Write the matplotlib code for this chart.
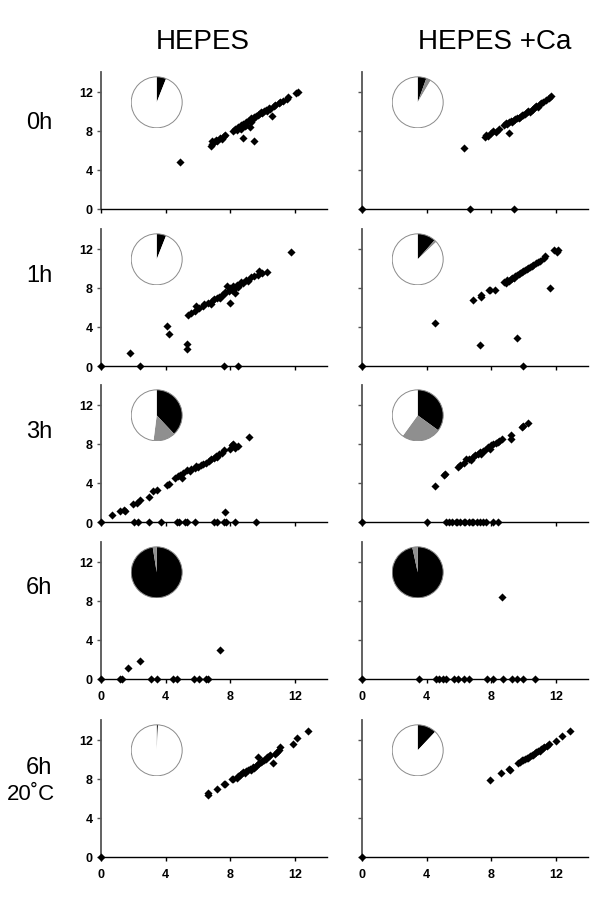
"""Scatter panels with inset pies: HEPES vs HEPES +Ca over time."""

import matplotlib
import matplotlib.pyplot as plt
from matplotlib.patches import Circle

matplotlib.use("Agg")

plt.rcParams["font.family"] = ["Liberation Sans", "DejaVu Sans"]

col_titles = ["HEPES", "HEPES +Ca"]
row_labels = ["0h", "1h", "3h", "6h", "6h"]
axis_ticks = [0, 4, 8, 12]

# --- scatter data, one (x, y) pair of lists per panel ---
r1_hepes_x = [4.9, 6.8, 6.9, 6.9, 7.0, 7.1, 7.2, 7.4, 7.5, 7.6, 7.7,
              8.2, 8.3, 8.4, 8.5, 8.6, 8.7, 8.7, 8.8, 8.9, 9.0, 9.0, 9.1, 9.2, 9.3, 9.3,
              9.4, 9.5, 9.6, 9.7, 9.8, 9.9, 10.0, 10.1, 10.2, 10.3, 10.4, 10.5, 10.7,
              10.8, 11.0, 11.1, 11.3, 11.5, 11.6, 12.1, 12.2, 8.8, 9.45, 10.6, 9.25]
r1_hepes_y = [4.8, 6.4, 6.6, 6.9, 6.8, 7.1, 7.0, 7.3, 7.2, 7.5, 7.6,
              8.0, 8.2, 8.1, 8.4, 8.3, 8.6, 8.2, 8.7, 8.5, 8.9, 8.6, 9.0, 9.1, 8.9, 9.3,
              9.2, 9.4, 9.5, 9.6, 9.7, 9.9, 9.8, 10.0, 10.1, 10.0, 10.3, 10.2, 10.5,
              10.6, 10.8, 10.9, 11.0, 11.2, 11.4, 11.9, 12.0, 7.3, 7.0, 9.5, 8.4]

r1_ca_x = [0.0, 6.7, 9.4, 6.3, 7.6, 7.7, 7.8, 8.0, 8.1, 8.3, 8.5, 9.1,
           8.8, 8.9, 9.0, 9.1, 9.2, 9.3, 9.4, 9.5, 9.6, 9.7, 9.8, 9.9, 10.0, 10.1,
           10.2, 10.3, 10.4, 10.5, 10.6, 10.7, 10.8, 10.9, 11.0, 11.1, 11.2, 11.4,
           11.6, 11.7]
r1_ca_y = [0.0, 0.0, 0.0, 6.2, 7.4, 7.6, 7.5, 7.8, 8.0, 7.9, 8.2, 7.8,
           8.6, 8.8, 8.7, 8.9, 9.0, 8.9, 9.1, 9.2, 9.3, 9.3, 9.4, 9.6, 9.6, 9.7,
           9.9, 10.0, 9.9, 10.1, 10.2, 10.4, 10.5, 10.4, 10.7, 10.8, 10.9, 11.1,
           11.3, 11.5]

r2_hepes_x = [0.0, 2.4, 7.6, 8.5, 1.8, 4.1, 4.2, 5.3, 5.3, 8.0, 8.3, 11.8,
              5.4, 5.6, 5.8, 5.9, 6.1, 6.3, 6.4, 6.6, 6.8, 6.9, 7.0, 7.2, 7.3, 7.4,
              7.5, 7.6, 7.7, 7.8, 7.9, 8.0, 8.1, 8.2, 8.3, 8.4, 8.5, 8.6, 8.7, 8.8,
              9.0, 9.1, 9.3, 9.5, 9.7, 9.8, 10.0, 10.3]
r2_hepes_y = [0.0, 0.0, 0.0, 0.0, 1.3, 4.05, 3.3, 2.2, 1.75, 6.4, 7.45, 11.7,
              5.2, 5.4, 5.6, 6.1, 5.9, 6.1, 6.3, 6.4, 6.3, 6.6, 6.8, 6.9, 7.1, 7.0,
              7.3, 7.4, 7.6, 8.2, 7.7, 8.0, 7.8, 8.2, 8.0, 8.3, 8.1, 8.4, 8.6, 8.5,
              8.8, 8.7, 9.1, 9.2, 9.3, 9.7, 9.5, 9.6]

r2_ca_x = [0.0, 9.95, 4.5, 7.3, 9.6, 11.65, 6.9, 7.4, 7.4, 7.85, 8.25, 7.9,
           8.8, 8.9, 9.0, 9.1, 9.2, 9.3, 9.4, 9.5, 9.6, 9.7, 9.8, 9.9, 10.0, 10.1,
           10.2, 10.3, 10.4, 10.5, 10.6, 10.8, 10.9, 11.0, 11.3, 11.35, 11.9,
           12.15, 12.1]
r2_ca_y = [0.0, 0.0, 4.35, 2.1, 2.9, 8.0, 6.7, 7.3, 7.1, 7.75, 7.75, 7.8,
           8.6, 8.5, 8.8, 8.7, 8.9, 9.0, 9.0, 9.2, 9.3, 9.4, 9.5, 9.6, 9.7, 9.8,
           9.9, 10.0, 10.1, 10.2, 10.3, 10.5, 10.6, 10.7, 11.0, 11.2, 11.85,
           11.9, 11.7]

r3_hepes_x = [0.0, 2.05, 2.3, 2.95, 3.7, 4.7, 4.85, 5.2, 5.3, 5.8, 7.0, 7.2,
              7.65, 7.75, 8.3, 9.6, 7.7,
              0.7, 1.2, 1.4, 1.5, 2.0, 2.2, 2.4, 2.95, 3.2, 3.45, 4.1, 4.2, 4.6, 4.8,
              4.9, 5.0, 5.1, 5.3, 5.5, 5.6, 5.8, 5.9, 6.0, 6.2, 6.3, 6.5, 6.7, 6.8,
              7.0, 7.1, 7.2, 7.3, 7.5, 7.6, 8.0, 8.1, 8.2, 8.3, 8.5, 9.15]
r3_hepes_y = [0.0, 0.0, 0.0, 0.0, 0.0, 0.0, 0.0, 0.0, 0.0, 0.0, 0.0, 0.0,
              0.0, 0.0, 0.0, 0.0, 1.05,
              0.7, 1.1, 1.2, 1.1, 1.8, 1.9, 2.2, 2.6, 3.2, 3.3, 3.8, 3.9, 4.5, 4.7,
              4.8, 4.5, 5.0, 5.3, 5.2, 5.4, 5.5, 5.7, 5.6, 5.8, 5.9, 6.0, 6.2, 6.4,
              6.5, 6.7, 6.6, 6.9, 7.1, 7.4, 7.5, 7.9, 8.0, 7.6, 7.8, 8.65]

r3_ca_x = [0.0, 4.0, 5.2, 5.4, 5.6, 5.8, 5.9, 6.1, 6.3, 6.4, 6.6, 6.8, 6.9, 7.1,
           7.3, 7.5, 7.7, 8.1, 8.4,
           4.55, 5.1, 5.15, 5.95, 6.1, 6.3, 6.45, 6.6, 6.75, 6.9, 7.0, 7.2, 7.3,
           7.4, 7.5, 7.6, 7.8, 7.9, 8.0, 8.1, 8.3, 8.4, 8.5, 8.7, 9.2, 9.2, 9.9,
           10.0, 10.3]
r3_ca_y = [0.0, 0.0, 0.0, 0.0, 0.0, 0.0, 0.0, 0.0, 0.0, 0.0, 0.0, 0.0, 0.0, 0.0,
           0.0, 0.0, 0.0, 0.0, 0.0,
           3.7, 4.8, 4.9, 5.6, 5.8, 6.0, 6.45, 6.4, 6.3, 6.6, 6.8, 7.0, 7.15,
           6.9, 7.3, 7.4, 7.65, 7.5, 7.9, 8.0, 8.1, 8.2, 8.3, 8.5, 8.85, 8.5, 9.7,
           9.8, 10.1]

r4_hepes_x = [0.0, 1.15, 1.3, 3.1, 3.45, 4.45, 4.7, 5.75, 6.1, 6.5, 6.6, 1.7, 2.4, 7.35]
r4_hepes_y = [0.0, 0.0, 0.0, 0.0, 0.0, 0.0, 0.0, 0.0, 0.0, 0.0, 0.0, 1.1, 1.8, 2.95]

r4_ca_x = [0.0, 3.55, 4.6, 4.8, 5.0, 5.2, 5.7, 5.95, 6.3, 6.6, 7.75, 8.1, 8.75,
           9.3, 9.6, 10.0, 10.7, 8.7]
r4_ca_y = [0.0, 0.0, 0.0, 0.0, 0.0, 0.0, 0.0, 0.0, 0.0, 0.0, 0.0, 0.0, 0.0,
           0.0, 0.0, 0.0, 0.0, 8.4]

r5_hepes_x = [0.0, 6.65, 6.65, 7.2, 7.6, 7.7, 8.1, 8.2, 8.4, 8.5, 8.6, 8.7, 8.8,
              8.9, 9.0, 9.1, 9.2, 9.3, 9.4, 9.5, 9.6, 9.7, 9.7, 9.8, 9.9, 10.0,
              10.1, 10.2, 10.3, 10.4, 10.5, 10.65, 10.8, 10.9, 11.0, 11.1, 11.9,
              12.15, 12.8]
r5_hepes_y = [0.0, 6.5, 6.3, 7.0, 7.45, 7.5, 7.95, 8.0, 8.1, 8.3, 8.4, 8.5, 8.7,
              8.6, 8.8, 8.9, 9.0, 8.9, 9.2, 9.1, 9.3, 9.5, 10.2, 9.6, 9.7, 9.8,
              9.9, 10.0, 10.2, 10.3, 10.4, 9.65, 10.5, 10.7, 10.9, 11.2, 11.5,
              12.2, 12.9]

r5_ca_x = [0.0, 7.95, 8.6, 9.1, 9.15, 9.65, 9.8, 9.9, 10.0, 10.1, 10.2, 10.3,
           10.4, 10.5, 10.6, 10.7, 10.8, 10.9, 11.0, 11.1, 11.2, 11.3, 11.45,
           11.6, 12.0, 12.4, 12.9]
r5_ca_y = [0.0, 7.9, 8.6, 9.0, 8.9, 9.65, 9.7, 9.9, 9.9, 10.0, 10.1, 10.1,
           10.3, 10.4, 10.4, 10.6, 10.7, 10.8, 10.8, 11.0, 11.1, 11.2, 11.3,
           11.5, 11.9, 12.4, 12.9]

# --- pie fractions: black, gray (white is the rest) ---
pie_black = [[0.06, 0.055], [0.06, 0.115], [0.38, 0.35], [0.975, 0.966], [0.008, 0.12]]
pie_gray = [[0.0, 0.03], [0.0, 0.015], [0.14, 0.25], [0.025, 0.034], [0.0, 0.0]]

panels = [
    [(r1_hepes_x, r1_hepes_y), (r1_ca_x, r1_ca_y)],
    [(r2_hepes_x, r2_hepes_y), (r2_ca_x, r2_ca_y)],
    [(r3_hepes_x, r3_hepes_y), (r3_ca_x, r3_ca_y)],
    [(r4_hepes_x, r4_hepes_y), (r4_ca_x, r4_ca_y)],
    [(r5_hepes_x, r5_hepes_y), (r5_ca_x, r5_ca_y)],
]

W, H = 600, 912
fig = plt.figure(figsize=(W / 100, H / 100), dpi=100)

col_left = [101, 362]
ax_w = 226
row_bottom = [210, 367, 523, 680, 858]
ax_h = 137
row_label_y = [123, 276, 432, 588, 768]

for r in range(5):
    for c in range(2):
        rect = [col_left[c] / W, 1 - row_bottom[r] / H, ax_w / W, ax_h / H]
        ax = fig.add_axes(rect)
        x, y = panels[r][c]
        ax.scatter(x, y, marker="D", s=17, color="black", linewidths=0,
                   clip_on=False, zorder=3)
        ax.set_xlim(0, 14)
        ax.set_ylim(0, 14)
        for side in ["top", "right"]:
            ax.spines[side].set_visible(False)
        ax.spines["left"].set_color("#555555")
        ax.spines["left"].set_linewidth(1.3)
        ax.spines["bottom"].set_linewidth(1.0)
        ax.set_xticks(axis_ticks)
        ax.set_yticks(axis_ticks)
        ax.tick_params(axis="x", length=3, width=1, pad=5)
        ax.tick_params(axis="y", length=3, width=1, pad=3, color="#555555")
        if c == 0:
            ax.set_yticklabels([str(t) for t in axis_ticks], fontsize=9,
                               fontweight="bold")
        else:
            ax.set_yticklabels([])
        if r >= 3:
            ax.set_xticklabels([str(t) for t in axis_ticks], fontsize=9,
                               fontweight="bold")
        else:
            ax.set_xticklabels([])

        # inset pie
        rx, ry = 26 / (ax_w / 14), 26 / (ax_h / 14)
        cx, cy = 3.45, 10.9
        pax = ax.inset_axes([cx - rx, cy - ry, 2 * rx, 2 * ry],
                            transform=ax.transData)
        b, g = pie_black[r][c], pie_gray[r][c]
        fr = [b, g, max(0.0, 1 - b - g)]
        pax.pie(fr, colors=["black", "#8f8f8f", "white"], startangle=90,
                counterclock=False, normalize=True,
                wedgeprops=dict(linewidth=0))
        pax.add_patch(Circle((0, 0), 1, fill=False, edgecolor="#8a8a8a",
                             linewidth=0.7))
        pax.set_xlim(-1.02, 1.02)
        pax.set_ylim(-1.02, 1.02)
        pax.axis("off")

for c, title in enumerate(col_titles):
    fig.text([203, 495][c] / W, 1 - 42 / H, title, fontsize=20,
             ha="center", va="center")

for r, lab in enumerate(row_labels):
    fig.text(39 / W, 1 - row_label_y[r] / H, lab, fontsize=17,
             ha="center", va="center")
fig.text(31 / W, 1 - 795 / H, "20\u02daC", fontsize=16, ha="center", va="center")

fig.savefig("out.png", dpi=100)
